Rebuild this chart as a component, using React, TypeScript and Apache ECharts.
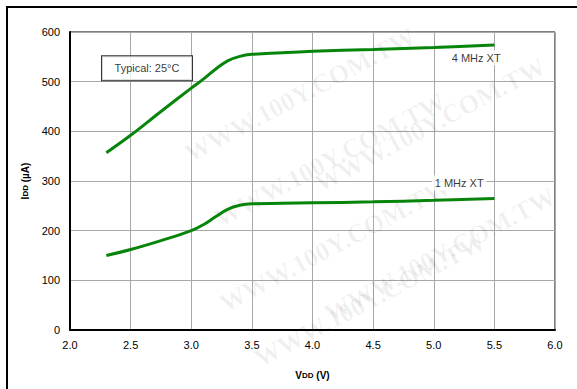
import React, { useEffect, useRef } from "react";
import * as echarts from "echarts";

const xTicks = [2.0, 2.5, 3.0, 3.5, 4.0, 4.5, 5.0, 5.5, 6.0];
const yTicks = [0, 100, 200, 300, 400, 500, 600];

const vdd4 = [2.3, 2.5, 2.75, 3.0, 3.1, 3.2, 3.3, 3.4, 3.5, 3.75, 4.0, 4.5, 5.0, 5.5];
const idd4 = [357, 392, 440, 487, 505, 525, 542, 551, 555, 558, 561, 565, 569, 574];

const vdd1 = [2.3, 2.5, 2.75, 3.0, 3.1, 3.2, 3.3, 3.4, 3.5, 3.75, 4.0, 4.5, 5.0, 5.5];
const idd1 = [150, 162, 180, 200, 212, 228, 243, 251, 254, 255, 256, 258, 261, 265];

const seriesNames = ["4 MHz XT", "1 MHz XT"];
const seriesLabelPos = [
  [5.35, 548],
  [5.21, 296],
];
const noteText = "Typical: 25°C";
const notePos = [2.635, 527];

const watermark = "WWW.100Y.COM.TW";

export default function App() {
  const ref = useRef<HTMLDivElement>(null);
  useEffect(() => {
    if (!ref.current) return;
    const chart = echarts.init(ref.current, undefined, { renderer: "svg" });
    const font = "Arial, 'Liberation Sans', sans-serif";
    const mk = (xs: number[], ys: number[]) => xs.map((x, i) => [x, ys[i]]);
    const wmRows = [
      [300, 95], [330, 160], [335, 245], [370, 300], [430, 125], [440, 255],
    ];
    const baseLabel = {
      show: true,
      position: "inside",
      color: "#000",
      fontSize: 11,
      fontFamily: font,
    };
    chart.setOption({
      animation: false,
      backgroundColor: "#fff",
      graphic: [
        {
          type: "polyline",
          shape: { points: [[7, 389], [7, 7], [577, 7]] },
          style: { stroke: "#000", lineWidth: 2, fill: "none" },
          z: 100,
        },
        ...wmRows.map((p) => ({
          type: "text",
          x: p[0],
          y: p[1],
          rotation: (28 * Math.PI) / 180,
          silent: true,
          z: 1,
          style: {
            text: watermark,
            fill: "rgba(0,0,0,0.06)",
            font: "bold 26px 'Liberation Serif', 'Times New Roman', serif",
            align: "center",
            verticalAlign: "middle",
          },
        })),
      ],
      grid: {
        left: 70,
        right: 22,
        top: 32,
        bottom: 59,
        show: true,
        borderColor: "#000",
        borderWidth: 1,
        backgroundColor: "transparent",
      },
      xAxis: {
        type: "value",
        min: xTicks[0],
        max: xTicks[xTicks.length - 1],
        interval: 0.5,
        axisLine: { show: true, onZero: false, lineStyle: { color: "#000", width: 2 } },
        axisTick: { show: false },
        splitLine: { show: true, lineStyle: { color: "#a8a8a8", width: 1 } },
        axisLabel: {
          color: "#000",
          fontSize: 11,
          fontFamily: font,
          margin: 9,
          formatter: (v: number) => v.toFixed(1),
        },
        name: "{b|V}{s|DD}{b| (V)}",
        nameLocation: "middle",
        nameGap: 40,
        nameTextStyle: {
          rich: {
            b: { fontSize: 10, fontWeight: "bold", fontFamily: font, color: "#000" },
            s: { fontSize: 8, fontWeight: "bold", fontFamily: font, color: "#000" },
          },
        },
      },
      yAxis: {
        type: "value",
        min: yTicks[0],
        max: yTicks[yTicks.length - 1],
        interval: 100,
        axisLine: { show: true, lineStyle: { color: "#000", width: 2 } },
        axisTick: { show: false },
        splitLine: { show: true, lineStyle: { color: "#a8a8a8", width: 1 } },
        axisLabel: { color: "#000", fontSize: 11, fontFamily: font, margin: 10 },
        name: "{b|I}{s|DD}{b| (µA)}",
        nameLocation: "middle",
        nameGap: 34,
        nameTextStyle: {
          rich: {
            b: { fontSize: 10, fontWeight: "bold", fontFamily: font, color: "#000" },
            s: { fontSize: 8, fontWeight: "bold", fontFamily: font, color: "#000" },
          },
        },
      },
      series: [
        {
          name: seriesNames[0],
          type: "line",
          data: mk(vdd4, idd4),
          smooth: 0.4,
          showSymbol: false,
          lineStyle: { color: "#07850a", width: 3 },
          z: 3,
        },
        {
          name: seriesNames[1],
          type: "line",
          data: mk(vdd1, idd1),
          smooth: 0.4,
          showSymbol: false,
          lineStyle: { color: "#07850a", width: 3 },
          z: 3,
        },
        {
          type: "scatter",
          silent: true,
          symbolSize: 2,
          itemStyle: { color: "rgba(0,0,0,0)" },
          z: 4,
          data: seriesNames.map((n, i) => ({
            value: seriesLabelPos[i],
            label: { ...baseLabel, formatter: n, backgroundColor: "#fff", padding: [2, 3] },
          })),
        },
        {
          type: "scatter",
          silent: true,
          symbolSize: 2,
          itemStyle: { color: "rgba(0,0,0,0)" },
          z: 4,
          data: [
            {
              value: notePos,
              label: {
                ...baseLabel,
                formatter: noteText,
                backgroundColor: "#fff",
                borderColor: "#000",
                borderWidth: 1,
                width: 90,
                height: 24,
                lineHeight: 24,
                align: "center",
                padding: 0,
              },
            },
          ],
        },
      ],
    });
    return () => chart.dispose();
  }, []);
  return <div ref={ref} style={{ width: 577, height: 389, position: "absolute", left: 0, top: 0 }} />;
}
